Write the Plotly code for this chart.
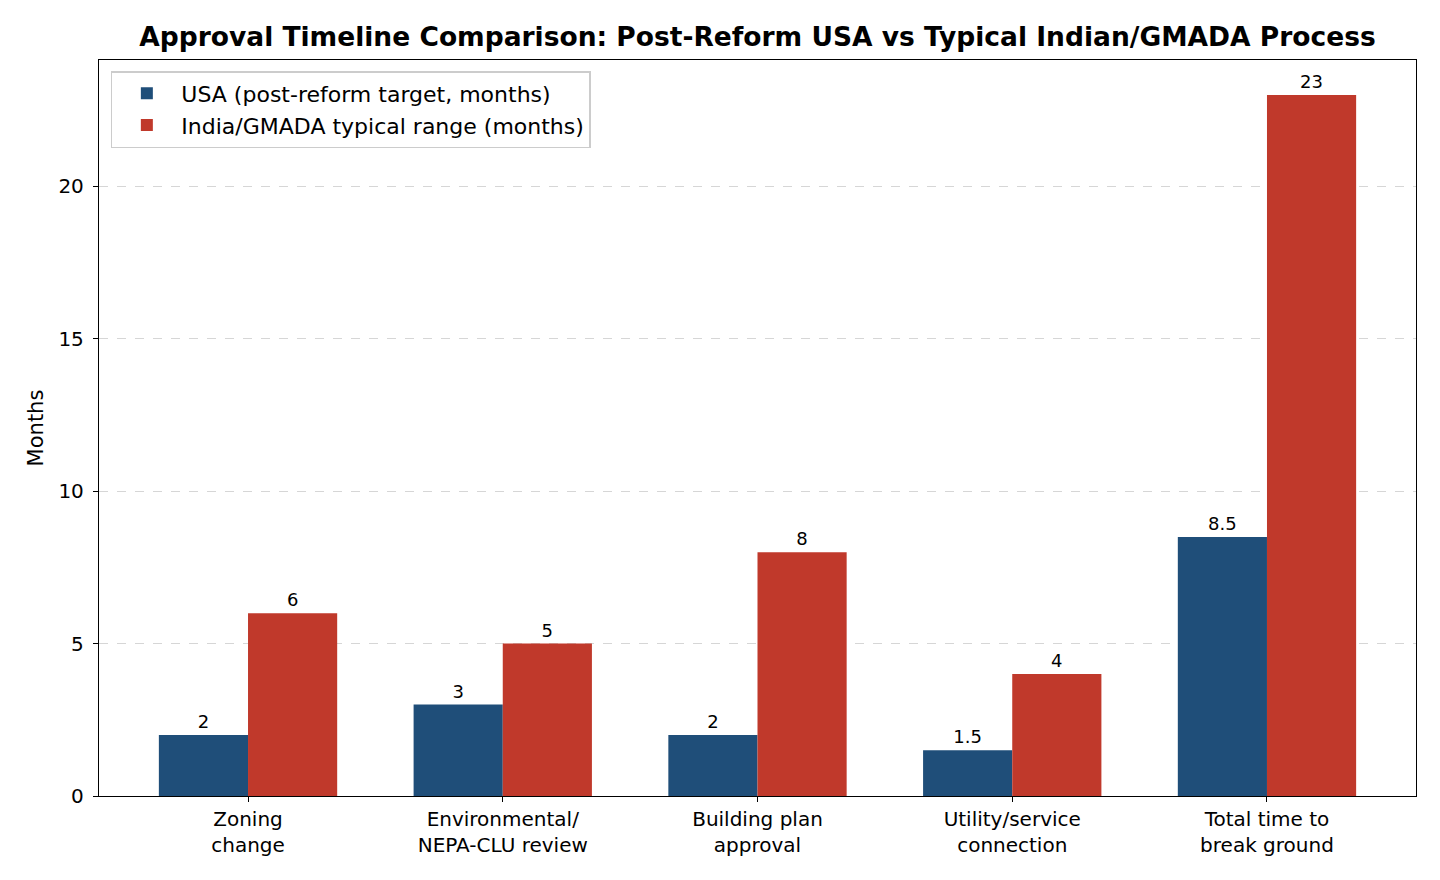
import plotly.graph_objects as go

categories = ["Zoning<br>change", "Environmental/<br>NEPA-CLU review", "Building plan<br>approval",
              "Utility/service<br>connection", "Total time to<br>break ground"]
usa_values = [2, 3, 2, 1.5, 8.5]
india_values = [6, 5, 8, 4, 23]
usa_name = "USA (post-reform target, months)"
india_name = "India/GMADA typical range (months)"
title = "Approval Timeline Comparison: Post-Reform USA vs Typical Indian/GMADA Process"

FONT = "DejaVu Sans"
fig = go.Figure()
fig.add_trace(go.Bar(x=categories, y=usa_values, name=usa_name, marker=dict(color="#1f4e79", line=dict(width=0)),
                     text=usa_values, texttemplate="%{y}", textposition="outside",
                     textfont=dict(family=FONT, size=18, color="black"), cliponaxis=False))
fig.add_trace(go.Bar(x=categories, y=india_values, name=india_name, marker=dict(color="#c0392b", line=dict(width=0)),
                     text=india_values, texttemplate="%{y}", textposition="outside",
                     textfont=dict(family=FONT, size=18, color="black"), cliponaxis=False))

fig.update_layout(
    width=1440, height=880,
    margin=dict(l=99, r=24, t=60, b=84),
    plot_bgcolor="white", paper_bgcolor="white",
    barmode="group", bargap=0.3, bargroupgap=0,
    font=dict(family=FONT, size=20, color="black"),
    title=dict(text="<b>" + title + "</b>", x=(99 + 1416) / 2 / 1440, xanchor="center",
               y=1 - 37 / 880, yanchor="middle", font=dict(family=FONT, size=26.5, color="black")),
    legend=dict(x=0.009, y=0.985, xanchor="left", yanchor="top", bgcolor="rgba(255,255,255,0.8)",
                bordercolor="#cccccc", borderwidth=1.5, font=dict(family=FONT, size=22),
                itemwidth=59, tracegroupgap=0),
    showlegend=True,
)
fig.update_xaxes(range=[-0.585, 4.585], showline=True, linecolor="black", linewidth=1.3, mirror=True,
                 ticks="outside", ticklen=5, tickcolor="black", showgrid=False,
                 tickfont=dict(family=FONT, size=20))
fig.update_yaxes(range=[0, 24.15], showline=True, linecolor="black", linewidth=1.3, mirror=True,
                 ticks="outside", ticklen=5, tickcolor="black", tickvals=[0, 5, 10, 15, 20],
                 showgrid=True, gridcolor="#d6d6d6", griddash="dash", gridwidth=1.2, zeroline=False,
                 tickfont=dict(family=FONT, size=20), ticklabelstandoff=5,
                 title=dict(text="Months", font=dict(family=FONT, size=21), standoff=9))

fig.write_html("out.html")
